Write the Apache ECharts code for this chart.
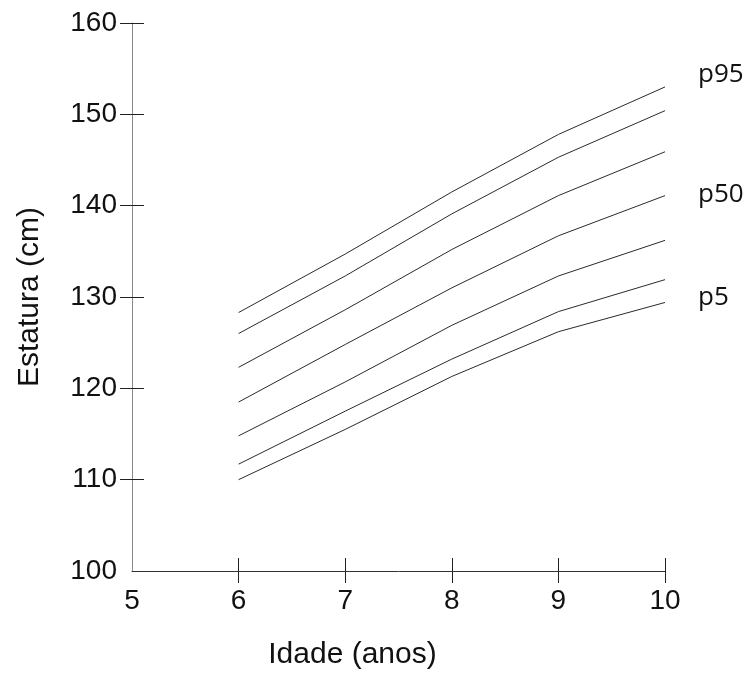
<!DOCTYPE html>
<html><head><meta charset="utf-8">
<script src="https://cdn.jsdelivr.net/npm/echarts@6/dist/echarts.min.js"></script>
<style>html,body{margin:0;padding:0;background:#fff}#c{width:752px;height:677px}</style>
</head><body><div id="c"></div>
<script>
const ages = [6, 7, 8, 9, 10];
const p95 = [128.3, 134.7, 141.5, 147.8, 153.0];
const p90 = [126.0, 132.3, 139.1, 145.3, 150.4];
const p75 = [122.3, 128.6, 135.2, 141.1, 145.9];
const p50 = [118.5, 124.8, 131.0, 136.7, 141.1];
const p25 = [114.8, 120.7, 126.9, 132.3, 136.2];
const p10 = [111.7, 117.5, 123.2, 128.4, 131.9];
const p5  = [110.0, 115.5, 121.3, 126.2, 129.4];
const xTickValues = [6, 7, 8, 9, 10];
const yTickValues = [110, 120, 130, 140, 150, 160];
const seriesDefs = [
  { name: 'p95', data: p95, label: 'p95', offset: [0, -12] },
  { name: 'p90', data: p90 },
  { name: 'p75', data: p75 },
  { name: 'p50', data: p50, label: 'p50', offset: [0, -1] },
  { name: 'p25', data: p25 },
  { name: 'p10', data: p10 },
  { name: 'p5',  data: p5,  label: 'p5', offset: [0, -5] }
];

const LABEL_FONT = '"Liberation Sans", Arial, sans-serif';
const chart = echarts.init(document.getElementById('c'), null, { renderer: 'canvas' });

const baseX = { type: 'value', min: 5, max: 10, interval: 1, gridIndex: 0, splitLine: { show: false } };
const baseY = { type: 'value', min: 100, max: 160, interval: 10, gridIndex: 0, splitLine: { show: false } };

chart.setOption({
  animation: false,
  backgroundColor: '#fff',
  grid: { left: 132, right: 87, top: 23, bottom: 106, containLabel: false, outerBoundsMode: 'none' },
  xAxis: [
    Object.assign({}, baseX, {
      position: 'bottom',
      name: 'Idade (anos)',
      nameLocation: 'middle',
      nameGap: 69,
      nameTextStyle: { fontFamily: LABEL_FONT, fontSize: 30, color: '#111', padding: [0, 92, 0, 0] },
      axisLine: { show: true, onZero: false, lineStyle: { color: '#333', width: 1 } },
      axisTick: { show: true, inside: false, length: 12, customValues: xTickValues, lineStyle: { color: '#222', width: 1 } },
      axisLabel: { show: true, margin: 16, fontFamily: LABEL_FONT, fontSize: 28, color: '#111' }
    }),
    Object.assign({}, baseX, {
      position: 'bottom',
      axisLine: { show: false, onZero: false },
      axisTick: { show: true, inside: true, length: 13, customValues: xTickValues, lineStyle: { color: '#222', width: 1 } },
      axisLabel: { show: false }
    })
  ],
  yAxis: [
    Object.assign({}, baseY, {
      position: 'left',
      name: 'Estatura (cm)',
      nameLocation: 'middle',
      nameGap: 87,
      nameRotate: 90,
      nameTextStyle: { fontFamily: LABEL_FONT, fontSize: 30, color: '#111' },
      axisLine: { show: true, onZero: false, lineStyle: { color: '#888', width: 1 } },
      axisTick: { show: true, inside: false, length: 12, customValues: yTickValues, lineStyle: { color: '#222', width: 1 } },
      axisLabel: { show: true, margin: 15, fontFamily: LABEL_FONT, fontSize: 28, color: '#111' }
    }),
    Object.assign({}, baseY, {
      position: 'left',
      axisLine: { show: false, onZero: false },
      axisTick: { show: true, inside: true, length: 12, customValues: yTickValues, lineStyle: { color: '#222', width: 1 } },
      axisLabel: { show: false }
    })
  ],
  series: seriesDefs.map(function (s) {
    return {
      name: s.name,
      type: 'line',
      xAxisIndex: 0,
      yAxisIndex: 0,
      data: ages.map(function (a, i) { return [a, s.data[i]]; }),
      showSymbol: false,
      symbol: 'none',
      lineStyle: { color: '#2a2a2a', width: 1 },
      emphasis: { disabled: true },
      endLabel: s.label ? {
        show: true,
        formatter: s.label,
        distance: 33,
        offset: s.offset,
        fontFamily: '"Open Sans", "Noto Sans", sans-serif',
        fontSize: 26,
        color: '#111'
      } : { show: false }
    };
  })
});
</script>
</body></html>
